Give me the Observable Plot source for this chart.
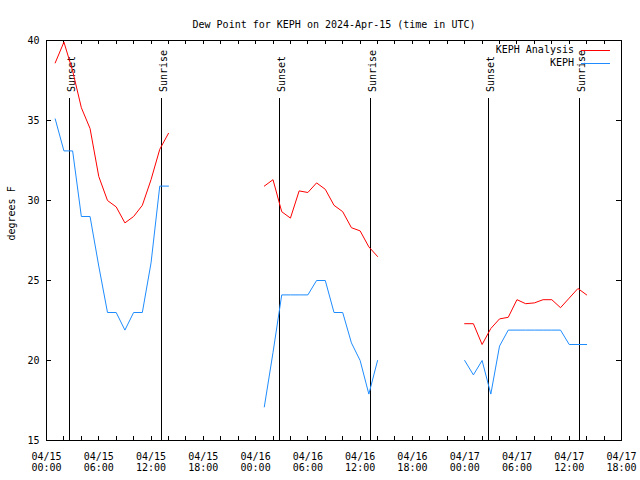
<!DOCTYPE html>
<html><head><meta charset="utf-8">
<script src="https://cdn.jsdelivr.net/npm/d3@7"></script>
<script src="https://cdn.jsdelivr.net/npm/@observablehq/plot@0.6"></script>
<style>html,body{margin:0;padding:0;background:#fff}svg{display:block}</style>
</head><body><div id="chart"></div>
<script>
const title = "Dew Point for KEPH on 2024-Apr-15 (time in UTC)";
const yLabel = "degrees F";
const seriesNames = ["KEPH Analysis", "KEPH"];
const seriesColors = ["#ff0000", "#1e8cff"];

// segment 1: 2024-04-15
const times1 = ["2024-04-15T01:00Z","2024-04-15T02:00Z","2024-04-15T03:00Z","2024-04-15T04:00Z","2024-04-15T05:00Z","2024-04-15T06:00Z","2024-04-15T07:00Z","2024-04-15T08:00Z","2024-04-15T09:00Z","2024-04-15T10:00Z","2024-04-15T11:00Z","2024-04-15T12:00Z","2024-04-15T13:00Z","2024-04-15T14:00Z"];
const analysis1 = [38.6, 39.9, 38.1, 35.8, 34.5, 31.5, 30.0, 29.6, 28.6, 29.0, 29.7, 31.3, 33.2, 34.2];
const obs1      = [35.1, 33.1, 33.1, 29.0, 29.0, 25.9, 23.0, 23.0, 21.9, 23.0, 23.0, 26.1, 30.9, 30.9];

// segment 2: 2024-04-16
const times2 = ["2024-04-16T01:00Z","2024-04-16T02:00Z","2024-04-16T03:00Z","2024-04-16T04:00Z","2024-04-16T05:00Z","2024-04-16T06:00Z","2024-04-16T07:00Z","2024-04-16T08:00Z","2024-04-16T09:00Z","2024-04-16T10:00Z","2024-04-16T11:00Z","2024-04-16T12:00Z","2024-04-16T13:00Z","2024-04-16T14:00Z"];
const analysis2 = [30.9, 31.3, 29.3, 28.9, 30.6, 30.5, 31.1, 30.7, 29.7, 29.3, 28.3, 28.1, 27.1, 26.5];
const obs2      = [17.1, 20.5, 24.1, 24.1, 24.1, 24.1, 25.0, 25.0, 23.0, 23.0, 21.1, 20.0, 17.9, 20.0];

// segment 3: 2024-04-17
const times3 = ["2024-04-17T00:00Z","2024-04-17T01:00Z","2024-04-17T02:00Z","2024-04-17T03:00Z","2024-04-17T04:00Z","2024-04-17T05:00Z","2024-04-17T06:00Z","2024-04-17T07:00Z","2024-04-17T08:00Z","2024-04-17T09:00Z","2024-04-17T10:00Z","2024-04-17T11:00Z","2024-04-17T12:00Z","2024-04-17T13:00Z","2024-04-17T14:00Z"];
const analysis3 = [22.3, 22.3, 21.0, 22.0, 22.6, 22.7, 23.8, 23.55, 23.6, 23.8, 23.8, 23.3, 23.9, 24.5, 24.1];
const obs3      = [20.0, 19.1, 20.0, 17.9, 20.9, 21.9, 21.9, 21.9, 21.9, 21.9, 21.9, 21.9, 21.0, 21.0, 21.0];

const eventTimes  = ["2024-04-15T02:41Z","2024-04-15T13:14Z","2024-04-16T02:46Z","2024-04-16T13:14Z","2024-04-17T02:47Z","2024-04-17T13:13Z"];
const eventLabels = ["Sunset","Sunrise","Sunset","Sunrise","Sunset","Sunrise"];

const xDomain = ["2024-04-15T00:00Z", "2024-04-17T18:00Z"];
const xTickTimes = ["2024-04-15T00:00Z","2024-04-15T06:00Z","2024-04-15T12:00Z","2024-04-15T18:00Z","2024-04-16T00:00Z","2024-04-16T06:00Z","2024-04-16T12:00Z","2024-04-16T18:00Z","2024-04-17T00:00Z","2024-04-17T06:00Z","2024-04-17T12:00Z","2024-04-17T18:00Z"];
const yTicks = [15, 20, 25, 30, 35, 40];
const yDomain = [15, 40];

const parse = s => new Date(s);
const rows = [];
[[times1, analysis1, obs1], [times2, analysis2, obs2], [times3, analysis3, obs3]].forEach(([t, a, o], seg) => {
  t.forEach((s, i) => {
    rows.push({time: parse(s), value: a[i], series: seriesNames[0], key: "a" + seg});
    rows.push({time: parse(s), value: o[i], series: seriesNames[1], key: "o" + seg});
  });
});
const events = eventTimes.map((s, i) => ({time: parse(s), label: eventLabels[i]}));
const xTicks = xTickTimes.map(parse);
const x0 = parse(xDomain[0]), x1 = parse(xDomain[1]);
const minorTicks = d3.utcHour.every(2).range(x0, new Date(+x1 + 1));

const W = 640, H = 480, mL = 46, mR = 19, mT = 40, mB = 40;
const plotW = W - mL - mR, plotH = H - mT - mB;
const fmtD = d3.utcFormat("%m/%d"), fmtT = d3.utcFormat("%H:%M");
const eventLineTop = 36.4;

const chart = Plot.plot({
  width: W, height: H,
  marginLeft: mL, marginRight: mR, marginTop: mT, marginBottom: mB,
  style: {fontFamily: "'DejaVu Sans Mono', monospace", fontSize: "10px", background: "#fff", color: "#000"},
  x: {type: "utc", domain: [x0, x1], label: null},
  y: {domain: yDomain, label: null},
  color: {domain: seriesNames, range: seriesColors},
  marks: [
    Plot.axisX(xTicks, {tickSize: 0, tickPadding: 11, label: null, tickFormat: d => fmtD(d) + "\n" + fmtT(d), lineHeight: 1.15, fill: "#000"}),
    Plot.axisY(yTicks, {tickSize: 0, tickPadding: 7, label: null, fill: "#000"}),
    Plot.tickX(minorTicks, {x: d => d, insetTop: plotH - 4, stroke: "#000", shapeRendering: "crispEdges"}),
    Plot.tickX(minorTicks, {x: d => d, insetBottom: plotH - 4, stroke: "#000", shapeRendering: "crispEdges"}),
    Plot.tickY(yTicks, {y: d => d, insetRight: plotW - 5, stroke: "#000", shapeRendering: "crispEdges"}),
    Plot.tickY(yTicks, {y: d => d, insetLeft: plotW - 5, stroke: "#000", shapeRendering: "crispEdges"}),
    Plot.ruleX(events, {x: "time", y1: yDomain[0], y2: eventLineTop, stroke: "#000", strokeWidth: 1, shapeRendering: "crispEdges"}),
    Plot.text(events, {x: "time", y: eventLineTop, text: "label", rotate: -90, textAnchor: "start", lineAnchor: "bottom", dx: 5, dy: -6, fill: "#000"}),
    Plot.line(rows, {x: "time", y: "value", z: "key", stroke: "series", strokeWidth: 1}),
    Plot.frame({stroke: "#000", shapeRendering: "crispEdges"}),
    Plot.text([title], {frameAnchor: "top", text: d => d, lineAnchor: "bottom", dy: -13, fill: "#000"}),
    Plot.text([yLabel], {frameAnchor: "left", text: d => d, rotate: -90, lineAnchor: "bottom", dx: -31.5, fill: "#000"})
  ]
});

// legend inside the frame (top-right)
const svg = d3.select(chart);
const xr = W - mR;
const leg = svg.append("g").attr("font-family", "'DejaVu Sans Mono', monospace").attr("font-size", 10);
seriesNames.forEach((name, i) => {
  const yy = mT + 10 + i * 13;
  leg.append("text").attr("x", xr - 47).attr("y", yy).attr("dy", "0.32em").attr("text-anchor", "end").attr("fill", "#000").text(name);
  leg.append("line").attr("x1", xr - 40).attr("x2", xr - 11).attr("y1", yy).attr("y2", yy).attr("stroke", seriesColors[i]).attr("stroke-width", 1).attr("shape-rendering", "crispEdges");
});
document.getElementById("chart").appendChild(chart);
</script></body></html>
